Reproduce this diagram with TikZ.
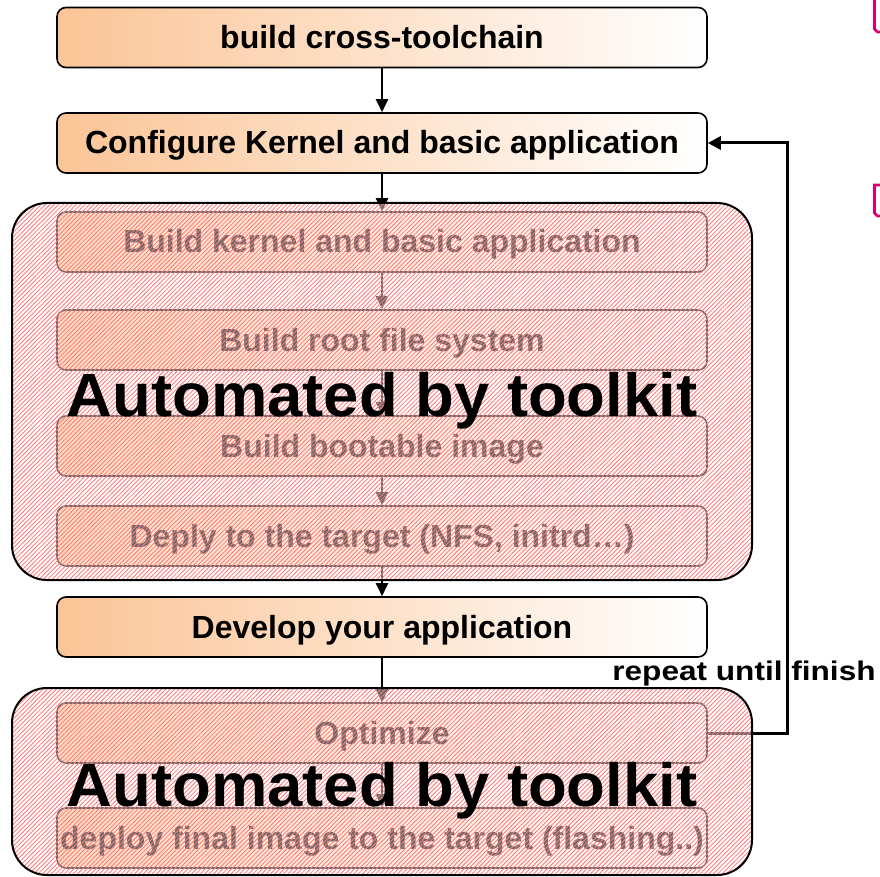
\documentclass[tikz,border=0pt]{standalone}
\usepackage{fontspec}
\setmainfont{Liberation Sans}
\usepackage{graphicx}
\usetikzlibrary{patterns.meta,arrows.meta}

\definecolor{boxorange}{RGB}{251,196,150}
\definecolor{hatchred}{RGB}{255,120,120}
\definecolor{tagpink}{RGB}{214,0,111}

\tikzset{
  stepbox/.style={draw=black, line width=1.6pt, rounded corners=9pt,
    left color=boxorange, right color=white,
    minimum width=650pt, minimum height=60pt, inner sep=0pt,
    text height=22pt, text depth=0pt,
    font=\fontsize{32}{38}\selectfont\bfseries},
  flow/.style={line width=2.4pt, -{Triangle[length=13pt,width=12pt]}},
  loopline/.style={line width=3pt, -{Triangle[length=13pt,width=13pt]}},
  groupbox/.style={rounded corners=35pt, inner sep=0pt,
    fill=white, fill opacity=0.42,
    postaction={fill opacity=1, pattern={Lines[angle=45,distance=3.1pt,line width=0.85pt]}, pattern color=hatchred},
    postaction={draw=black, line width=2pt}},
  bigtext/.style={font=\fontsize{61}{70}\selectfont\bfseries, inner sep=0pt, anchor=base},
  tagmark/.style={draw=tagpink, line width=2.6pt, line join=miter}
}

\begin{document}
\begin{tikzpicture}[x=1pt, y=-1pt]
  \useasboundingbox (0,0) rectangle (880,877);

  % process steps
  \node[stepbox] (b1) at (382,37.5) {build cross-toolchain};
  \node[stepbox] (b2) at (382,143)  {Configure Kernel and basic application};
  \node[stepbox] (b3) at (382,242)  {Build kernel and basic application};
  \node[stepbox] (b4) at (382,340)  {Build root file system};
  \node[stepbox] (b5) at (382,446)  {Build bootable image};
  \node[stepbox] (b6) at (382,536)  {Deply to the target (NFS, initrd\dots)};
  \node[stepbox] (b7) at (382,627)  {Develop your application};
  \node[stepbox] (b8) at (382,733)  {Optimize};
  \node[stepbox] (b9) at (382,838)  {deploy final image to the target (flashing..)};

  % flow between steps
  \draw[flow] (b1) -- (b2);
  \draw[flow] (b2) -- (b3);
  \draw[flow] (b3) -- (b4);
  \draw[flow] (b4) -- (b5);
  \draw[flow] (b5) -- (b6);
  \draw[flow] (b6) -- (b7);
  \draw[flow] (b7) -- (b8);
  \draw[flow] (b8) -- (b9);

  % feedback loop
  \coordinate (r1) at (787,733);
  \coordinate (r2) at (787,143);
  \draw[loopline] (b8.east) -- (r1) -- (r2) -- (b2.east);

  % automated groups (hatched veil)
  \node[groupbox, minimum width=740pt, minimum height=377pt] (g1) at (382,391.5) {};
  \node[groupbox, minimum width=740pt, minimum height=187pt] (g2) at (382,781.5) {};

  \node[bigtext] (a1) at (382,416) {\scalebox{1.04}[1]{Automated by toolkit}};
  \node[bigtext] (a2) at (382,806) {\scalebox{1.04}[1]{Automated by toolkit}};

  \node[font=\fontsize{27}{31}\selectfont\bfseries, inner sep=0pt, anchor=base] (rep) at (744,680)
    {\scalebox{1.17}[1]{repeat until finish}};

  % note markers at the right edge
  \begin{scope}
    \clip (0,0) rectangle (880,877);
    \draw[tagmark] (874.5,-3) -- (874.5,29) -- (877.5,32) -- (886,32);
    \draw[tagmark] (886,185) -- (874.5,185) -- (874.5,213) -- (877.5,216) -- (886,216);
  \end{scope}
\end{tikzpicture}
\end{document}
